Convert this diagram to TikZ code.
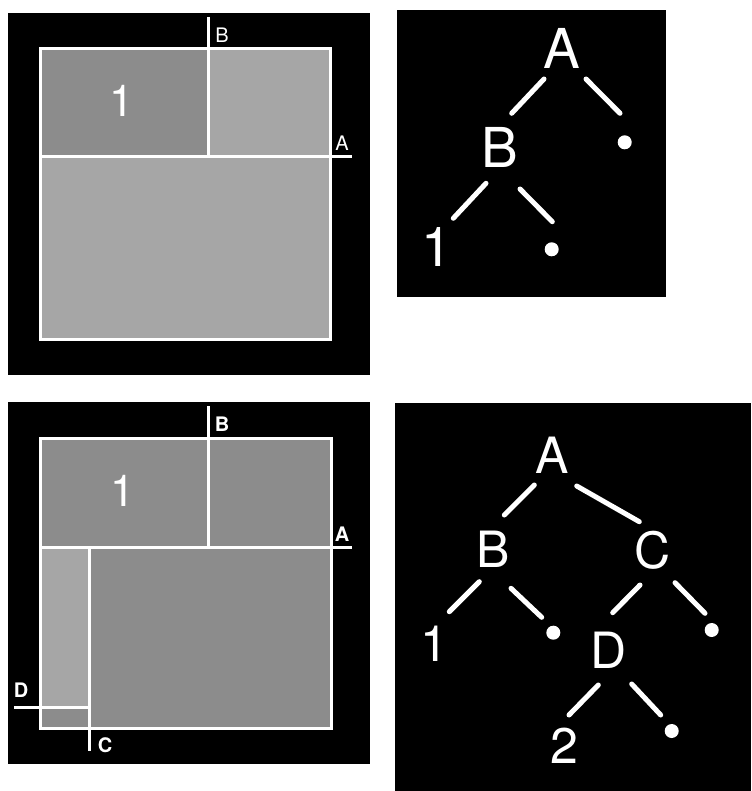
\documentclass[tikz,border=0pt]{standalone}
\usepackage{fontspec}
\setmainfont{TeX Gyre Heros}
\definecolor{darkgr}{HTML}{8C8C8C}
\definecolor{lightgr}{HTML}{A6A6A6}
\tikzset{
  panel/.style={fill=black},
  wline/.style={draw=white,line width=3pt},
  tedge/.style={draw=white,line width=5pt,line cap=round},
  lbl/.style={text=white,inner sep=0pt,font=\fontsize{20}{22}\selectfont},
  blbl/.style={text=white,inner sep=0pt,font=\bfseries\fontsize{20}{22}\selectfont},
  bignum/.style={text=white,inner sep=0pt,font=\fontsize{44}{48}\selectfont},
  tlab/.style={text=white,inner sep=0pt,font=\fontsize{55}{60}\selectfont},
  blab/.style={text=white,inner sep=0pt,font=\fontsize{50}{55}\selectfont},
  dotn/.style={circle,fill=white,minimum size=14pt,inner sep=0pt},
}
\begin{document}
\begin{tikzpicture}[x=1pt,y=-1pt]
\useasboundingbox[fill=white] (0,0) rectangle (751,791);
% ---------- top-left panel ----------
\fill[panel] (8,13) rectangle (370,375);
\fill[lightgr] (40,49) rectangle (330,339);
\fill[darkgr] (40,49) rectangle (208,157);
\draw[wline] (40,49) rectangle (330,339);
\draw[wline] (40,157) -- (352,157);
\draw[wline] (208,17) -- (208,157);
\node[lbl] (tlA) at (342,143) {A};
\node[lbl] (tlB) at (222,35) {B};
\node[bignum] (tl1) at (122,101) {1};
% ---------- bottom-left panel ----------
\fill[panel] (8,402) rectangle (370,764);
\fill[darkgr] (40,438) rectangle (331,728);
\fill[lightgr] (40,547) rectangle (89,707);
\draw[wline] (40,438) rectangle (331,728);
\draw[wline] (40,547) -- (352,547);
\draw[wline] (208,406) -- (208,547);
\draw[wline] (89,547) -- (89,751);
\draw[wline] (14,707) -- (89,707);
\node[blbl] (blA) at (342,534) {A};
\node[blbl] (blB) at (222,424) {B};
\node[blbl] (blC) at (105,745) {C};
\node[blbl] (blD) at (21,690) {D};
\node[bignum] (bl1) at (122.5,491) {1};
% ---------- top-right tree ----------
\fill[panel] (397,10) rectangle (666,297);
\node[tlab] (tA) at (561.7,48) {A};
\node[tlab] (tB) at (500,147.5) {B};
\node[dotn] (tdA) at (624.7,142.3) {};
\node[tlab] (t1) at (437,247.5) {1};
\node[dotn] (tdB) at (551.7,249.3) {};
\draw[tedge] ([shift={(-17.7,31)}]tA.center) -- ([shift={(11.7,-34.2)}]tB.center);
\draw[tedge] ([shift={(24.3,31)}]tA.center) -- ([shift={(-4.7,-29)}]tdA.center);
\draw[tedge] ([shift={(-14,35.8)}]tB.center) -- ([shift={(16.3,-29.2)}]t1.center);
\draw[tedge] ([shift={(20,41.5)}]tB.center) -- ([shift={(0.6,-27.6)}]tdB.center);
% ---------- bottom-right tree ----------
\fill[panel] (395,403) rectangle (751,791);
\node[blab] (bA) at (551.7,455) {A};
\node[blab] (bB) at (493,549.5) {B};
\node[blab] (bC) at (652.5,550) {C};
\node[blab] (b1) at (434.5,643.5) {1};
\node[dotn] (bdB) at (553.3,632.7) {};
\node[blab] (bD) at (609,650) {D};
\node[dotn] (bdC) at (711.7,630) {};
\node[blab] (b2) at (564.5,745.5) {2};
\node[dotn] (bdD) at (671.7,731) {};
\draw[tedge] ([shift={(-17.4,30)}]bA.center) -- ([shift={(11.3,-34.5)}]bB.center);
\draw[tedge] ([shift={(25,31)}]bA.center) -- ([shift={(-13.2,-28.3)}]bC.center);
\draw[tedge] ([shift={(-13.7,32.2)}]bB.center) -- ([shift={(14.8,-31.8)}]b1.center);
\draw[tedge] ([shift={(18,38.8)}]bB.center) -- ([shift={(-11.6,-15.4)}]bdB.center);
\draw[tedge] ([shift={(-12.5,35)}]bC.center) -- ([shift={(3.7,-37.3)}]bD.center);
\draw[tedge] ([shift={(22.5,32.7)}]bC.center) -- ([shift={(-6.7,-16.7)}]bdC.center);
\draw[tedge] ([shift={(-10.7,35)}]bD.center) -- ([shift={(4.5,-30.5)}]b2.center);
\draw[tedge] ([shift={(22.7,34)}]bD.center) -- ([shift={(-11,-16)}]bdD.center);
\end{tikzpicture}
\end{document}
